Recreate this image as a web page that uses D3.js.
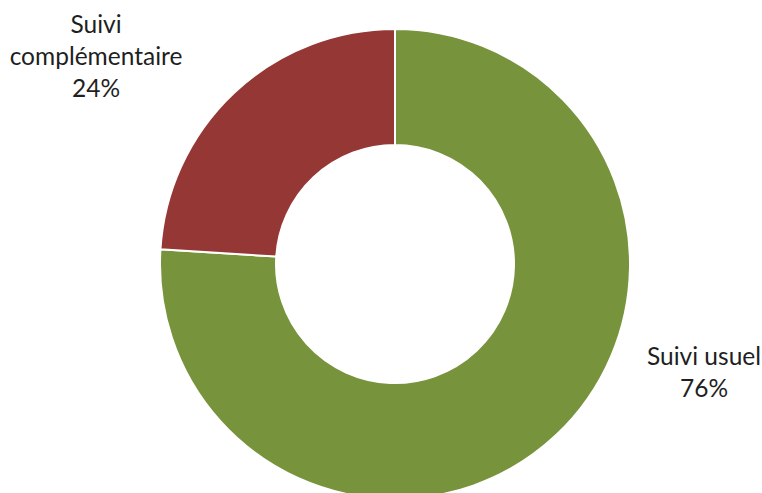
<!DOCTYPE html>
<html>
<head>
<meta charset="utf-8">
<script src="https://cdn.jsdelivr.net/npm/d3@7"></script>
<style>
  body { margin: 0; background: #fff; }
  text { font-family: Lato, "Open Sans", sans-serif; fill: #1f1f1f; }
</style>
</head>
<body>
<div id="chart"></div>
<script>
const categories = ['Suivi usuel', 'Suivi complémentaire'];
const values = [76, 24];
const labelLines = [['Suivi usuel', '76%'], ['Suivi', 'complémentaire', '24%']];
const colors = ['#77933c', '#953735'];

function drawChart() {
    const width = 762, height = 493;
    const cx = 395, cy = 264;
    const outerR = 235, innerR = 119;

    const svg = d3.select('#chart').append('svg')
        .attr('width', width)
        .attr('height', height);

    const g = svg.append('g')
        .attr('transform', `translate(${cx},${cy})`);

    // start at 12 o'clock, green goes clockwise, red ends back at the top
    const pie = d3.pie().sort(null).value(d => d);
    const arc = d3.arc().innerRadius(innerR).outerRadius(outerR);

    g.selectAll('path')
        .data(pie(values))
        .join('path')
        .attr('d', arc)
        .attr('fill', (d, i) => colors[i])
        .attr('stroke', '#fff')
        .attr('stroke-width', 2);

    // label anchors relative to the centre (Excel "outside end" look)
    const labelAnchor = [[309, 101], [-299, -231]];
    const lineH = 32;

    categories.forEach((c, i) => {
        const t = g.append('text')
            .attr('text-anchor', 'middle')
            .attr('font-size', 24.5)
            .attr('x', labelAnchor[i][0])
            .attr('y', labelAnchor[i][1]);
        labelLines[i].forEach((line, j) => {
            t.append('tspan')
                .attr('x', labelAnchor[i][0])
                .attr('dy', j === 0 ? 0 : lineH)
                .text(line);
        });
    });
}

drawChart();
</script>
</body>
</html>
